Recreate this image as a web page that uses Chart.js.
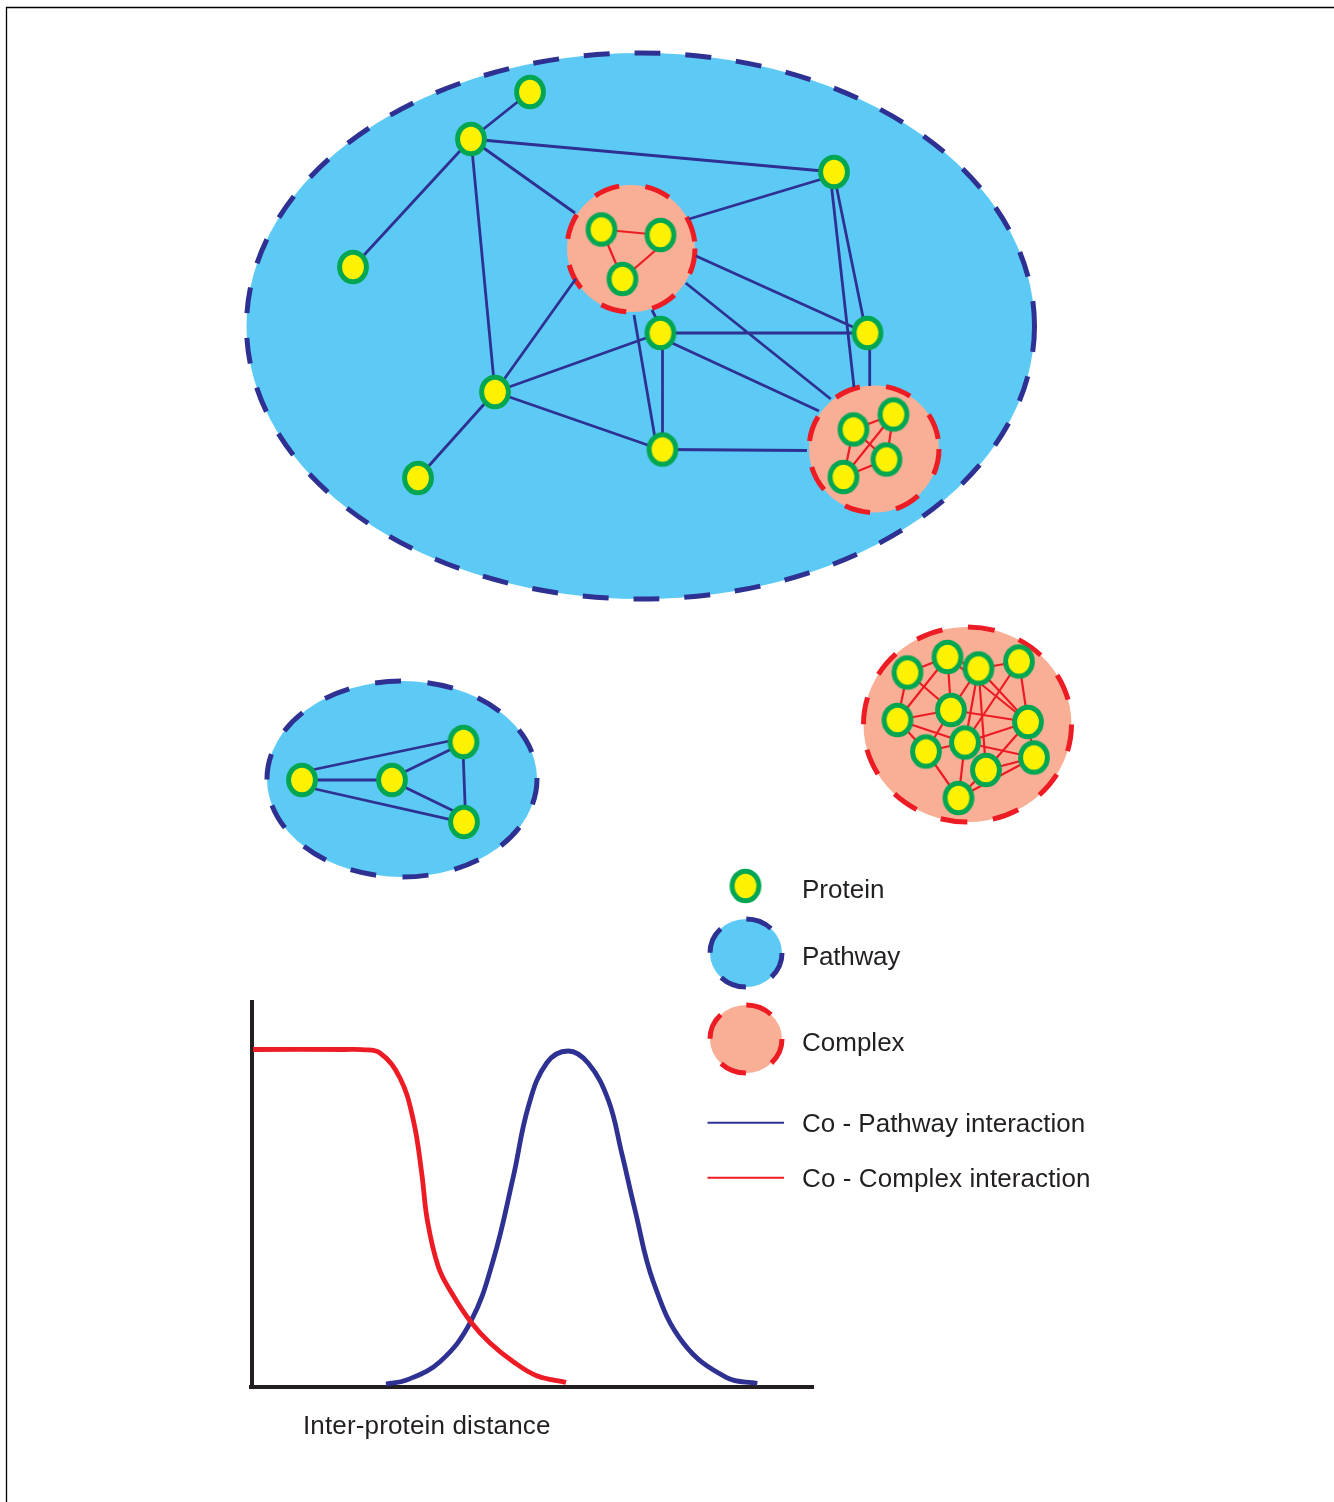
<!DOCTYPE html>
<html>
<head>
<meta charset="utf-8">
<title>Co-pathway and co-complex interactions</title>
<script src="https://cdn.jsdelivr.net/npm/chart.js@4"></script>
<style>
  html, body { margin: 0; padding: 0; background: #fff; }
  canvas { display: block; }
</style>
</head>
<body>
<canvas id="chart" width="1334" height="1502"></canvas>
<script>
// all values are in picture units, x to the right and y downwards
var frameX = [6.5, 6.5, 1334];
var frameY = [1502, 7.5, 7.5];

// pathways and complexes as ellipses
var pathwayCx = [640.5, 402, 746];
var pathwayCy = [326, 779, 953];
var pathwayRx = [394, 135, 36];
var pathwayRy = [273, 98, 34];
var complexCx = [631, 874, 967.5, 746];
var complexCy = [248.5, 449, 724.5, 1039];
var complexRx = [64, 65, 104, 36];
var complexRy = [63.5, 63.5, 97.5, 34];

var proteinX = [530, 471, 834, 353, 660.5, 867.5, 495, 662.5, 418,
  601.5, 660.5, 622.5,
  853.5, 893.5, 886.5, 843.5,
  907.5, 947.5, 978.5, 1019, 897.5, 951, 1028, 926, 965, 1034, 986, 958.5,
  302, 392, 463.5, 464, 745.5];
var proteinY = [92, 139, 172, 267, 333, 333, 392, 449.5, 478,
  229.5, 235, 279,
  429.5, 414.5, 459.5, 477,
  672.5, 657, 668.5, 661.5, 720, 710, 722, 751.5, 742.5, 757.5, 770, 798,
  780, 780, 742, 822, 886];

// links that stop short of a complex edge are given by their end points
var pathwayLinks = [
  [530, 92, 471, 139], [471, 139, 834, 172], [471, 139, 353, 267], [471, 139, 495, 392],
  [471, 139, 575, 213], [689, 219, 822, 179], [836.7, 188, 863, 317], [831.7, 188, 854, 387],
  [696, 256, 853, 327], [685.7, 283, 830.7, 399], [652, 310, 657, 320], [634, 315, 655, 438],
  [575.7, 279, 495, 392], [660, 333, 867, 333], [660, 333, 495, 392], [662.5, 345, 662.5, 440],
  [672, 343, 819, 411], [869.7, 348, 869.7, 386], [495, 392, 662, 450], [495, 392, 418, 478],
  [662, 449.5, 807, 450.5],
  [302, 780, 392, 780], [302, 772, 463.7, 738], [302, 786, 464, 822.6],
  [392, 778, 464, 743], [392, 781, 464, 816], [462.7, 742, 465.7, 822]
];
// pairs of indexes in proteinX / proteinY
var complexLinks = [
  [9, 10], [9, 11],
  [12, 13], [12, 14], [12, 15], [13, 14], [13, 15], [14, 15],
  [16, 17], [16, 20], [16, 21], [17, 18], [17, 20], [17, 21], [17, 22],
  [18, 21], [18, 24], [18, 26], [18, 22], [18, 19], [19, 22], [19, 24],
  [20, 21], [20, 24], [20, 23], [21, 22], [21, 23], [22, 24], [22, 26], [22, 25],
  [24, 25], [23, 24], [23, 27], [24, 27], [26, 27], [25, 26], [25, 27]
];
var complexOffCentreLinks = [[622.5, 279, 660.5, 246]];

var legendLineX = [707.5, 784];
var legendPathwayY = [1122.7, 1122.7];
var legendComplexY = [1177.7, 1177.7];

var axisLines = [[252, 1000, 252, 1389], [249, 1387, 814, 1387]];

var complexCurveX = [253, 345, 362, 380, 400, 413.3, 421.7, 427.3, 438.3, 451.7, 470.7, 490, 513.3, 536.7, 566];
var complexCurveY = [1049.5, 1049.5, 1049.7, 1053, 1078, 1120, 1173, 1220, 1266.7, 1293, 1321.7, 1343, 1361.7, 1375.7, 1382.3];
var pathwayCurveX = [386, 406.7, 440, 470.7, 493.3, 513.3, 528.3, 546.7, 568.3, 588.3, 608.3, 621.7, 635, 653.3, 683.3, 726.7, 757.3];
var pathwayCurveY = [1384, 1380, 1361.7, 1321.7, 1260, 1176.7, 1106.7, 1063, 1051, 1063.3, 1100, 1153, 1210, 1281.7, 1343, 1377.7, 1383.3];

var labelTexts = ['Protein', 'Pathway', 'Complex', 'Co - Pathway interaction', 'Co - Complex interaction', 'Inter-protein distance'];
var labelX = [802, 802, 802, 802, 802, 303];
var labelY = [897.5, 965, 1051, 1132, 1187, 1434];

var BLUE = '#2e3192', RED = '#ed1c24', INK = '#231f20';
var pathwayDash = [[26, 24.9], [26, 26.5], [27, 28]];
var complexDash = [[26, 26.4], [26, 26.4], [27, 25.75], [27, 28]];
var labelSpacing = ['0px', '-0.25px', '0px', '0px', '0.1px', '0.15px'];

function pairs(xs, ys) {
  return xs.map(function (x, i) { return { x: x, y: ys[i] }; });
}

// a null point breaks the line, so each list of links fits in one dataset
function linkPoints(links) {
  var out = [];
  links.forEach(function (l) {
    out.push({ x: l[0], y: l[1] }, { x: l[2], y: l[3] }, { x: null, y: null });
  });
  return out;
}

function proteinImage() {
  var c = document.createElement('canvas');
  c.width = 36;
  c.height = 40;
  var g = c.getContext('2d');
  g.beginPath();
  g.ellipse(18, 20, 13.4, 14.8, 0, 0, Math.PI * 2);
  g.fillStyle = '#fff200';
  g.fill();
  g.lineWidth = 5;
  g.strokeStyle = '#00a651';
  g.stroke();
  return c;
}

function lineSet(data, color, width, extra) {
  return Object.assign({
    data: data, showLine: true, borderColor: color, borderWidth: width,
    pointRadius: 0, spanGaps: false, fill: false, borderCapStyle: 'butt'
  }, extra || {});
}

function drawRegions(chart, cx, cy, rx, ry, fill, stroke, dashes) {
  var g = chart.ctx, sx = chart.scales.x, sy = chart.scales.y;
  cx.forEach(function (v, i) {
    var x = sx.getPixelForValue(v), y = sy.getPixelForValue(cy[i]);
    var a = Math.abs(sx.getPixelForValue(v + rx[i]) - x);
    var b = Math.abs(sy.getPixelForValue(cy[i] + ry[i]) - y);
    g.save();
    g.beginPath();
    g.ellipse(x, y, a, b, 0, 0, Math.PI * 2);
    g.fillStyle = fill;
    g.fill();
    g.setLineDash(dashes[i]);
    g.lineWidth = 5;
    g.strokeStyle = stroke;
    g.stroke();
    g.restore();
  });
}

var regionsPlugin = {
  id: 'regions',
  beforeDatasetsDraw: function (chart) {
    drawRegions(chart, pathwayCx, pathwayCy, pathwayRx, pathwayRy, '#5dcaf5', BLUE, pathwayDash);
    drawRegions(chart, complexCx, complexCy, complexRx, complexRy, '#f9ae96', RED, complexDash);
  }
};

var labelsPlugin = {
  id: 'labels',
  afterDatasetsDraw: function (chart) {
    var g = chart.ctx;
    g.save();
    g.font = '26px "Liberation Sans", Arial, sans-serif';
    g.fillStyle = INK;
    g.textAlign = 'left';
    g.textBaseline = 'alphabetic';
    labelTexts.forEach(function (t, i) {
      g.letterSpacing = labelSpacing[i];
      g.fillText(t, chart.scales.x.getPixelForValue(labelX[i]), chart.scales.y.getPixelForValue(labelY[i]));
    });
    g.restore();
  }
};

// first dataset ends up on top
new Chart(document.getElementById('chart'), {
  type: 'scatter',
  data: {
    datasets: [
      { label: 'Protein', data: pairs(proteinX, proteinY), pointStyle: proteinImage(), pointRadius: 15 },
      lineSet(linkPoints(complexLinks.map(function (p) {
        return [proteinX[p[0]], proteinY[p[0]], proteinX[p[1]], proteinY[p[1]]];
      }).concat(complexOffCentreLinks)), RED, 2.2),
      lineSet(linkPoints(pathwayLinks), BLUE, 2.8),
      lineSet(pairs(legendLineX, legendPathwayY), BLUE, 2),
      lineSet(pairs(legendLineX, legendComplexY), RED, 2),
      lineSet(pairs(complexCurveX, complexCurveY), RED, 4.8, { tension: 0.4 }),
      lineSet(pairs(pathwayCurveX, pathwayCurveY), BLUE, 4.8, { tension: 0.4 }),
      lineSet(linkPoints(axisLines), INK, 4),
      lineSet(pairs(frameX, frameY), '#000', 1.3)
    ]
  },
  options: {
    responsive: false,
    animation: false,
    devicePixelRatio: 1,
    layout: { padding: 0, autoPadding: false },
    plugins: { legend: { display: false }, tooltip: { enabled: false } },
    scales: {
      x: { type: 'linear', display: false, min: 0, max: 1334 },
      y: { type: 'linear', display: false, min: 0, max: 1502, reverse: true }
    }
  },
  plugins: [regionsPlugin, labelsPlugin]
});
</script>
</body>
</html>
